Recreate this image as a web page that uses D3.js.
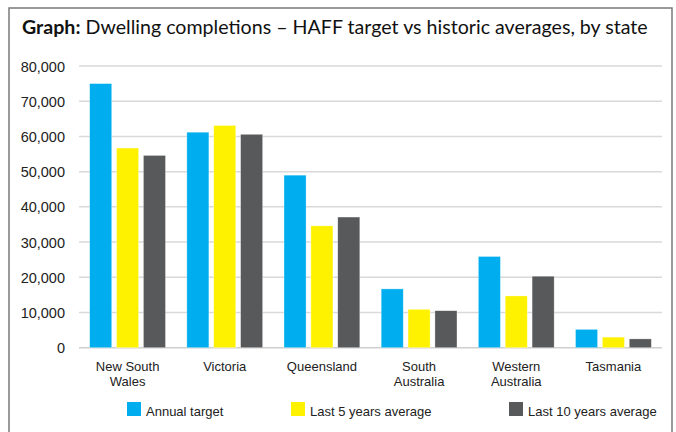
<!DOCTYPE html>
<html>
<head>
<meta charset="utf-8">
<script src="https://cdn.jsdelivr.net/npm/d3@7"></script>
<style>
  body { margin: 0; background: #fff; }
  svg { display: block; }
</style>
</head>
<body>
<div class="canvas"></div>
<script>
// data
const states = ["New South Wales", "Victoria", "Queensland", "South Australia", "Western Australia", "Tasmania"];
const stateLines = [["New South", "Wales"], ["Victoria"], ["Queensland"], ["South", "Australia"], ["Western", "Australia"], ["Tasmania"]];
const seriesNames = ["Annual target", "Last 5 years average", "Last 10 years average"];
const annualTarget = [75000, 61200, 49000, 16700, 25900, 5200];
const last5 = [56700, 63100, 34600, 10900, 14700, 3000];
const last10 = [54600, 60600, 37100, 10500, 20300, 2500];
const yTicks = [0, 10000, 20000, 30000, 40000, 50000, 60000, 70000, 80000];

const colors = ["#00aeef", "#fff200", "#58595b"];
const W = 676, H = 432;
const labelFont = "'Liberation Sans', Arial, sans-serif";

const svg = d3.select(".canvas").append("svg").attr("width", W).attr("height", H);

// outer frame
svg.append("rect")
  .attr("x", 9).attr("y", 8)
  .attr("width", 663).attr("height", 440)
  .attr("fill", "#fff")
  .attr("stroke", "#7a7a7a")
  .attr("stroke-width", 1.5);

// title
const title = svg.append("text")
  .attr("x", 22).attr("y", 34)
  .style("font-family", "Lato")
  .style("font-size", "21px")
  .attr("fill", "#111");
title.append("tspan").style("font-weight", 700).text("Graph:");
title.append("tspan").style("font-weight", 400).text(" Dwelling completions \u2013 HAFF target vs historic averages, by state");
// stretch to the width in the reference
let tw = title.node().getComputedTextLength();
title.style("font-size", (21 * 626 / tw) + "px");

let data = states.map((s, i) => ({
  name: s,
  values: [annualTarget[i], last5[i], last10[i]]
}));

let x0 = d3.scaleBand().domain(states).range([79, 662]).paddingInner(0.22).paddingOuter(0.11);
let x1 = d3.scaleBand().domain(d3.range(3)).range([0, x0.bandwidth()]).paddingInner(0.18);
let y = d3.scaleLinear().domain([0, 80000]).range([347.7, 66]);

// gridlines
svg.append("g")
  .selectAll("line")
  .data(yTicks)
  .join("line")
  .attr("x1", 79).attr("x2", 662)
  .attr("y1", d => y(d)).attr("y2", d => y(d))
  .attr("stroke", (d) => d === 0 ? "#cfcfcf" : "#d9d9d9")
  .attr("stroke-width", 1.5);

// y labels
svg.append("g")
  .selectAll("text")
  .data(yTicks)
  .join("text")
  .attr("x", 65)
  .attr("y", d => y(d) + 5.5)
  .attr("text-anchor", "end")
  .style("font-family", labelFont)
  .style("font-size", "14.5px")
  .attr("fill", "#222")
  .text(d => d3.format(",")(d));

// bars
let groups = svg.append("g")
  .selectAll("g")
  .data(data)
  .join("g")
  .attr("transform", d => `translate(${x0(d.name)},0)`);

groups.selectAll("rect")
  .data(d => d.values)
  .join("rect")
  .attr("x", (d, i) => x1(i))
  .attr("width", x1.bandwidth())
  .attr("y", d => y(d))
  .attr("height", d => y(0) - y(d))
  .attr("fill", (d, i) => colors[i])
  .attr("stroke", "#fff")
  .attr("stroke-opacity", 0.5)
  .attr("stroke-width", 0.6);

// x labels
let xl = svg.append("g")
  .selectAll("text")
  .data(states)
  .join("text")
  .attr("x", d => x0(d) + x0.bandwidth() / 2)
  .attr("y", 371)
  .attr("text-anchor", "middle")
  .style("font-family", labelFont)
  .style("font-size", "13px")
  .attr("fill", "#222");
xl.selectAll("tspan")
  .data((d, i) => stateLines[i])
  .join("tspan")
  .attr("x", function () { return this.parentNode.getAttribute("x"); })
  .attr("dy", (d, i) => i === 0 ? 0 : 15)
  .text(d => d);

// legend
const legendX = [127, 291, 509];
let legend = svg.append("g")
  .selectAll("g")
  .data(seriesNames)
  .join("g")
  .attr("transform", (d, i) => `translate(${legendX[i]},402)`);
legend.append("rect")
  .attr("width", 14).attr("height", 14)
  .attr("fill", (d, i) => colors[i]);
legend.append("text")
  .attr("x", 19).attr("y", 14)
  .style("font-family", labelFont)
  .style("font-size", "13px")
  .attr("fill", "#222")
  .text(d => d);
</script>
</body>
</html>
